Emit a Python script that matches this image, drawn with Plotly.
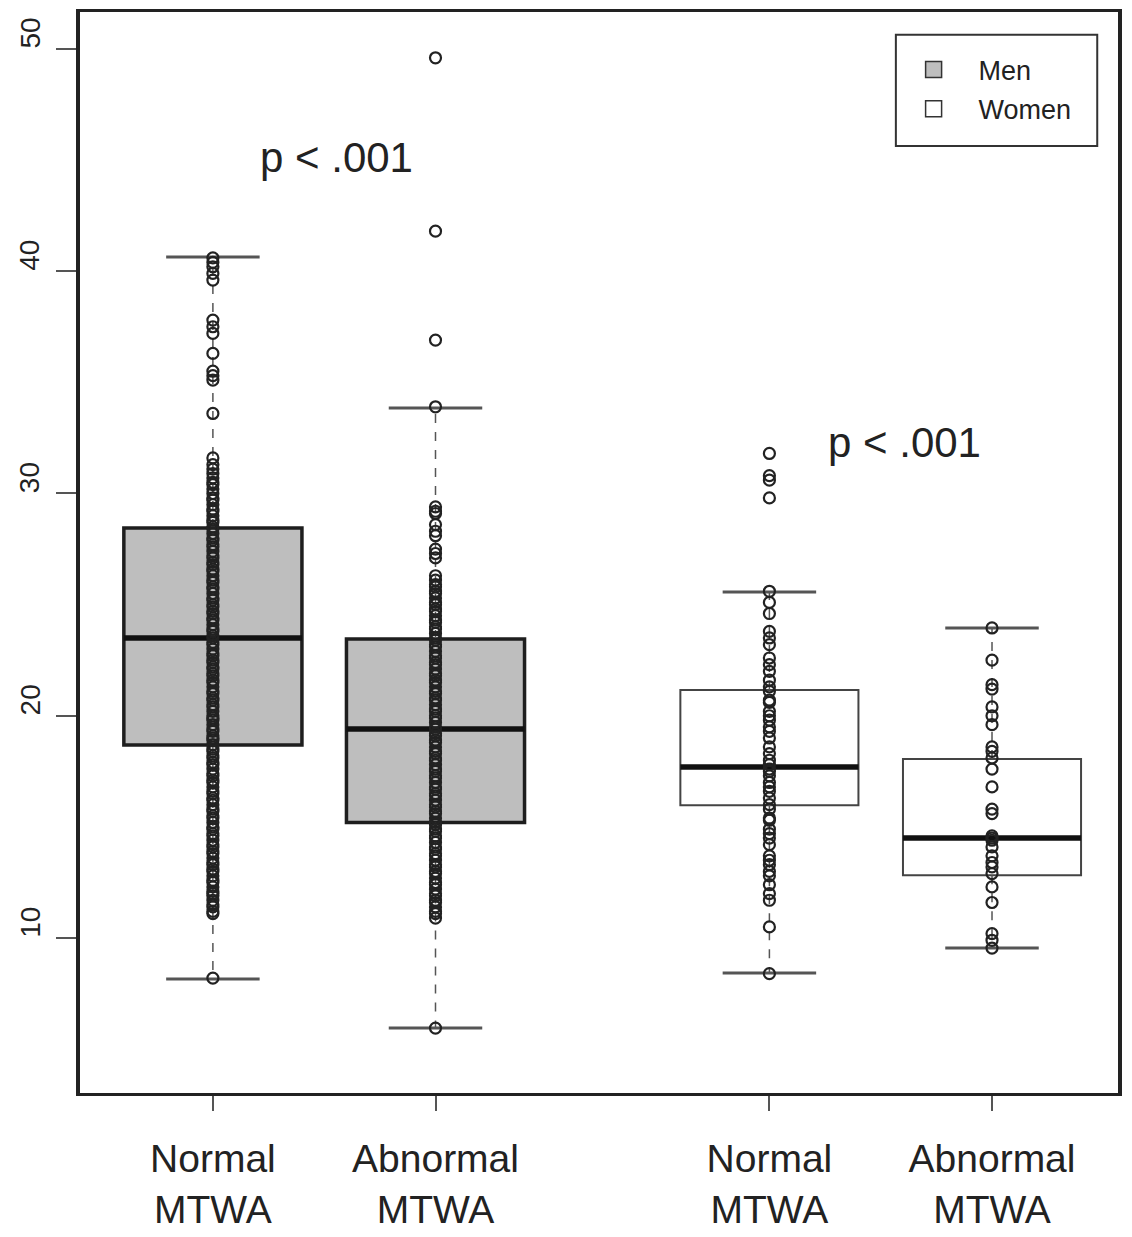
import plotly.graph_objects as go

# ---- data ----
categories = ["Normal<br>MTWA", "Abnormal<br>MTWA", "Normal<br>MTWA", "Abnormal<br>MTWA"]
positions = [1.0, 2.0, 3.5, 4.5]
groups = ["Men", "Men", "Women", "Women"]
y_ticks = [10, 20, 30, 40, 50]

q1 = [18.68, 15.2, 15.98, 12.83]
median = [23.5, 19.4, 17.7, 14.5]
q3 = [28.45, 23.45, 21.16, 18.05]
lower_whisker = [8.16, 5.95, 8.43, 9.55]
upper_whisker = [40.64, 33.85, 25.57, 23.95]

men_normal = [8.2, 11.1, 11.2, 11.4, 11.5, 11.7, 11.9, 12.0, 12.1, 12.3, 12.5, 12.6, 12.8,
              13.0, 13.1, 13.3, 13.4, 13.6, 13.8, 13.9, 14.1, 14.2, 14.4, 14.6, 14.7, 14.9,
              15.0, 15.2, 15.4, 15.5, 15.7, 15.8, 16.0, 16.2, 16.3, 16.5, 16.6, 16.8, 17.0,
              17.1, 17.3, 17.4, 17.6, 17.8, 17.9, 18.1, 18.2, 18.4, 18.5, 18.7, 18.9, 19.0,
              19.1, 19.3, 19.4, 19.6, 19.8, 19.9, 20.0, 20.2, 20.4, 20.5, 20.7, 20.8, 21.0,
              21.1, 21.3, 21.5, 21.6, 21.8, 21.9, 22.1, 22.2, 22.4, 22.5, 22.7, 22.8, 23.0,
              23.2, 23.3, 23.5, 23.6, 23.8, 23.9, 24.1, 24.3, 24.4, 24.6, 24.7, 24.9, 25.0,
              25.2, 25.3, 25.5, 25.7, 25.8, 26.0, 26.1, 26.3, 26.5, 26.6, 26.8, 26.9, 27.1,
              27.2, 27.4, 27.6, 27.7, 27.9, 28.0, 28.2, 28.4, 28.5, 28.7, 28.8, 29.0, 29.2,
              29.3, 29.5, 29.7, 29.8, 30.0, 30.2, 30.4, 30.5, 30.7, 30.9, 31.1, 31.3, 31.6,
              33.6, 35.1, 35.3, 35.5, 36.3, 37.2, 37.5, 37.8, 39.6, 39.9, 40.2, 40.4, 40.6]
men_abnormal = [5.95, 10.9, 11.1, 11.2, 11.4, 11.6, 11.7, 11.9, 12.0, 12.2, 12.4, 12.5,
                12.7, 12.9, 13.0, 13.2, 13.3, 13.5, 13.7, 13.8, 14.0, 14.1, 14.3, 14.5,
                14.6, 14.8, 14.9, 15.1, 15.2, 15.4, 15.6, 15.7, 15.9, 16.0, 16.2, 16.4,
                16.5, 16.7, 16.8, 17.0, 17.2, 17.3, 17.5, 17.6, 17.8, 18.0, 18.1, 18.3,
                18.4, 18.6, 18.8, 18.9, 19.1, 19.2, 19.4, 19.5, 19.7, 19.9, 20.0, 20.2,
                20.3, 20.5, 20.7, 20.8, 21.0, 21.1, 21.3, 21.5, 21.6, 21.8, 21.9, 22.1,
                22.3, 22.4, 22.6, 22.7, 22.9, 23.1, 23.2, 23.4, 23.5, 23.7, 23.9, 24.0,
                24.2, 24.3, 24.5, 24.7, 24.8, 25.0, 25.1, 25.3, 25.5, 25.6, 25.8, 25.9,
                26.1, 26.3, 27.1, 27.3, 27.5, 28.1, 28.3, 28.6, 29.1, 29.2, 29.4, 33.9,
                36.9, 41.8, 49.6]
women_normal = [8.4, 10.5, 11.7, 12.0, 12.4, 12.8, 13.0, 13.3, 13.5, 13.7, 14.2, 14.5, 14.7,
                14.9, 15.3, 15.4, 15.8, 16.0, 16.3, 16.6, 16.8, 17.0, 17.3, 17.5, 17.6, 17.8,
                18.0, 18.3, 18.6, 19.0, 19.3, 19.5, 19.8, 20.0, 20.2, 20.6, 20.7, 21.1, 21.3,
                21.6, 22.0, 22.3, 22.6, 23.2, 23.5, 23.8, 24.6, 25.1, 25.6, 29.8, 30.6, 30.8,
                31.8]
women_abnormal = [9.55, 9.9, 10.2, 11.6, 12.3, 12.9, 13.2, 13.4, 13.7, 14.1, 14.4, 14.5, 14.6,
                  15.6, 15.8, 16.8, 17.6, 18.1, 18.4, 18.6, 19.6, 20.0, 20.4, 21.2, 21.4,
                  22.5, 23.95]
points = [men_normal, men_abnormal, women_normal, women_abnormal]

box_fill = {"Men": "#bebebe", "Women": "#ffffff"}
box_line = {"Men": ("#1e1e1e", 3.5), "Women": ("#444444", 2)}
box_half = 0.4
cap_half = 0.21

font_family = "Liberation Sans, Arial, sans-serif"
ink = "#222222"

fig = go.Figure()
shapes = []
for i, pos in enumerate(positions):
    g = groups[i]
    lc, lw = box_line[g]
    shapes.append(dict(type="rect", xref="x", yref="y", layer="below",
                       x0=pos - box_half, x1=pos + box_half, y0=q1[i], y1=q3[i],
                       fillcolor=box_fill[g], line=dict(color=lc, width=lw)))
    shapes.append(dict(type="line", xref="x", yref="y", layer="below",
                       x0=pos, x1=pos, y0=q3[i], y1=upper_whisker[i],
                       line=dict(color="#555", width=1.5, dash="dash")))
    shapes.append(dict(type="line", xref="x", yref="y", layer="below",
                       x0=pos, x1=pos, y0=q1[i], y1=lower_whisker[i],
                       line=dict(color="#555", width=1.5, dash="dash")))
    for v in (upper_whisker[i], lower_whisker[i]):
        shapes.append(dict(type="line", xref="x", yref="y", layer="below",
                           x0=pos - cap_half, x1=pos + cap_half, y0=v, y1=v,
                           line=dict(color="#555", width=3)))
    shapes.append(dict(type="line", xref="x", yref="y", layer="below",
                       x0=pos - box_half, x1=pos + box_half, y0=median[i], y1=median[i],
                       line=dict(color="#111", width=5.5)))

for i, pos in enumerate(positions):
    fig.add_trace(go.Scatter(
        x=[pos] * len(points[i]), y=points[i], mode="markers",
        marker=dict(symbol="circle-open", size=11, color="#222", line=dict(width=2.2)),
        showlegend=False, hoverinfo="y"))

# legend entries
for g in ["Men", "Women"]:
    fig.add_trace(go.Scatter(
        x=[None], y=[None], mode="markers", name=g, legendgroup=g,
        marker=dict(symbol="square", size=16, color=box_fill[g],
                    line=dict(color="#333", width=1.5))))

# legend frame
shapes.append(dict(type="rect", xref="paper", yref="paper",
                   x0=0.786, x1=0.980, y0=0.876, y1=0.979,
                   line=dict(color="#333", width=2), fillcolor="rgba(0,0,0,0)"))

annotations = [
    dict(x=1.556, y=45.1, xref="x", yref="y", text="p < .001", showarrow=False,
         font=dict(family=font_family, size=42, color=ink)),
    dict(x=4.106, y=32.3, xref="x", yref="y", text="p < .001", showarrow=False,
         font=dict(family=font_family, size=42, color=ink)),
]
# y tick labels (R style: rotated, starting at the tick)
for v in y_ticks:
    annotations.append(dict(x=-0.048, xref="paper", xanchor="center", y=v, yref="y",
                            yanchor="bottom", yshift=-2, text=str(v), textangle=-90,
                            showarrow=False,
                            font=dict(family=font_family, size=28, color=ink)))

fig.update_layout(
    width=1124, height=1229,
    margin=dict(l=72, r=14, t=4, b=144),
    plot_bgcolor="white", paper_bgcolor="white",
    shapes=shapes, annotations=annotations,
    showlegend=True,
    legend=dict(x=0.779, xanchor="left", y=0.969, yanchor="top", itemwidth=80,
                font=dict(family=font_family, size=27, color=ink),
                bgcolor="rgba(0,0,0,0)", borderwidth=0, tracegroupgap=1),
    font=dict(family=font_family, color=ink),
)
fig.update_xaxes(range=[0.403, 5.066], tickvals=positions, ticktext=categories,
                 automargin=False,
                 showgrid=False, zeroline=False, showline=True, mirror=True,
                 linecolor=ink, linewidth=3, ticks="outside", ticklen=15,
                 tickwidth=2, tickcolor="#555", ticklabelstandoff=14,
                 tickfont=dict(family=font_family, size=39, color=ink))
fig.update_yaxes(range=[3.03, 51.66], tickvals=y_ticks, showticklabels=False,
                 automargin=False,
                 showgrid=False, zeroline=False, showline=True, mirror=True,
                 linecolor=ink, linewidth=3.5, ticks="outside", ticklen=20,
                 tickwidth=2, tickcolor="#555")

fig.write_html("out.html")
